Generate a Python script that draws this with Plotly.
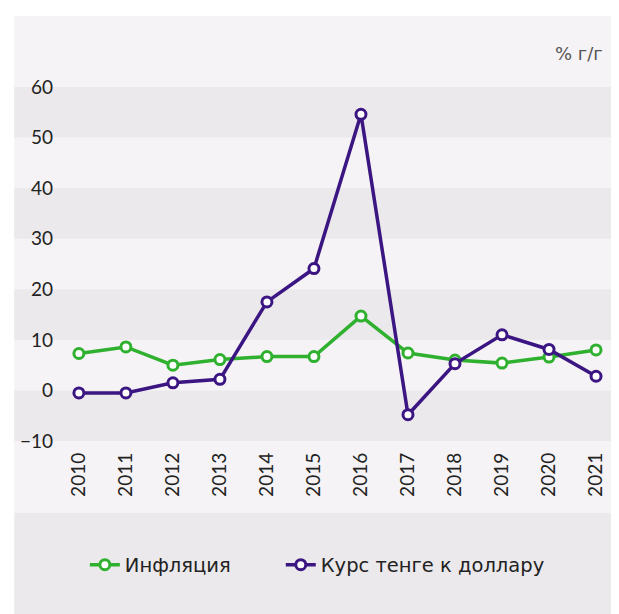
import plotly.graph_objects as go

years = ["2010", "2011", "2012", "2013", "2014", "2015", "2016", "2017", "2018", "2019", "2020", "2021"]
inflation = [7.3, 8.6, 5.0, 6.1, 6.7, 6.7, 14.7, 7.4, 6.0, 5.4, 6.6, 8.0]
tenge_usd = [-0.5, -0.5, 1.5, 2.2, 17.5, 24.1, 54.6, -4.8, 5.3, 11.0, 8.1, 2.8]
y_ticks = [-10, 0, 10, 20, 30, 40, 50, 60]
unit_label = "% г/г"

GREEN = "#2fb12f"
PURPLE = "#3b1683"
LIGHT = "#f5f3f5"
DARK = "#ebe9eb"
FONT = "Lato, 'Noto Sans', sans-serif"
LFONT = "'DejaVu Sans', 'Noto Sans', sans-serif"
TXT = "#222222"

OFF = 8  # page body margin
W, H = 619 - OFF, 614 - OFF
L, R, T, B = 48, 15, 79, 173
pw = W - L - R
ph = H - T - B

def sx(px):  # screen x -> paper
    return (px - OFF - L) / pw

def sy(py):  # screen y -> paper
    return (H - B - (py - OFF)) / ph

fig = go.Figure()
fig.add_trace(go.Scatter(
    x=years, y=inflation, name="Инфляция", mode="lines+markers", legend="legend",
    line=dict(color=GREEN, width=3.5),
    marker=dict(symbol="circle", size=10, color="white", line=dict(color=GREEN, width=3)),
))
fig.add_trace(go.Scatter(
    x=years, y=tenge_usd, name="Курс тенге к доллару", mode="lines+markers", legend="legend2",
    line=dict(color=PURPLE, width=3.5),
    marker=dict(symbol="circle", size=10, color="white", line=dict(color=PURPLE, width=3)),
))

shapes = []
shapes.append(dict(type="rect", xref="paper", yref="paper", layer="below",
                   x0=sx(11), x1=sx(630), y0=sy(512.5), y1=sy(16),
                   fillcolor=LIGHT, line=dict(width=0)))
shapes.append(dict(type="rect", xref="paper", yref="paper", layer="below",
                   x0=sx(11), x1=sx(630), y0=sy(630), y1=sy(512.5),
                   fillcolor=DARK, line=dict(width=0)))
for i in range(len(y_ticks) - 1):
    lo, hi = y_ticks[i], y_ticks[i + 1]
    if i % 2 == 0:
        shapes.append(dict(type="rect", xref="paper", yref="y", layer="below",
                           x0=sx(11), x1=sx(630), y0=lo, y1=hi,
                           fillcolor=DARK, line=dict(width=0)))

legend_common = dict(orientation="h", xanchor="left", yanchor="middle",
                     font=dict(family=LFONT, size=19.5, color=TXT),
                     bgcolor="rgba(0,0,0,0)", itemwidth=30)

spacing = 520 / 11
fig.update_layout(
    width=W, height=H,
    margin=dict(l=L, r=R, t=T, b=B, pad=0),
    paper_bgcolor="white", plot_bgcolor="rgba(0,0,0,0)",
    font=dict(family=FONT, size=19, color=TXT),
    shapes=shapes,
    showlegend=True,
    legend=dict(x=sx(82), y=sy(565), **legend_common),
    legend2=dict(x=sx(279), y=sy(565), **legend_common),
    xaxis=dict(type="category", range=[-(76 - 56) / spacing, 11 + (604 - 596) / spacing],
               showgrid=False, zeroline=False, showline=False,
               tickangle=-90, ticks="", ticklabelstandoff=7,
               tickfont=dict(size=19, color=TXT)),
    yaxis=dict(range=[-10, 60], tickvals=y_ticks, showgrid=False, zeroline=False,
               showline=False, ticks="", ticklabelstandoff=5,
               tickfont=dict(size=19, color=TXT)),
    annotations=[dict(text=unit_label, xref="paper", yref="paper",
                      x=sx(605), y=sy(53), xanchor="right", yanchor="middle",
                      showarrow=False, font=dict(family=LFONT, size=18, color="#555555"))],
)

fig.write_html("out.html")
